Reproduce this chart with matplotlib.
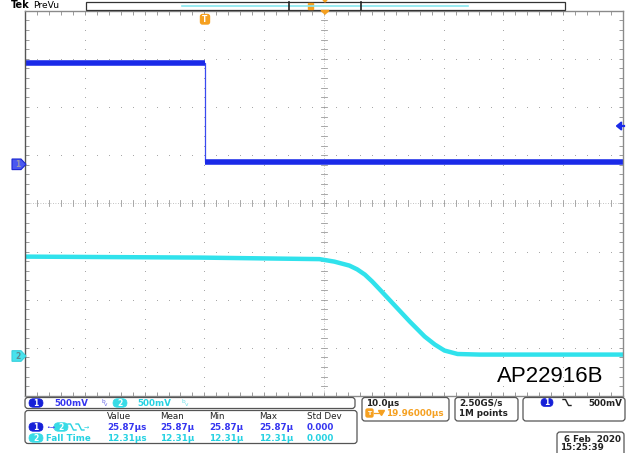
import matplotlib
matplotlib.use('Agg')
import matplotlib.pyplot as plt
import numpy as np
from matplotlib.patches import FancyBboxPatch, Rectangle, Polygon

W, H = 633, 453

# scope settings
t_center = 19.96      # us from trigger to screen centre
us_per_div = 10.0
v_per_div = 0.5

# channel 1 (blue), time in us from trigger, volts
ch1_t = [-30.04, 0.0, 0.0, 69.96]
ch1_v = [1.048, 1.048, 0.02, 0.02]
ch1_offset = 0.81     # divs

# channel 2 (cyan)
ch2_t = [-30.04, -0.8, 19.2, 21.7, 24.2, 25.5, 26.8, 28.0, 29.3, 31.8, 34.3,
         36.8, 38.5, 40.1, 42.3, 46.0, 69.96]
ch2_v = [1.027, 1.017, 1.001, 0.975, 0.934, 0.895, 0.840, 0.770, 0.685, 0.519,
         0.353, 0.197, 0.114, 0.052, 0.016, 0.010, 0.010]
ch2_offset = -3.16

# measurement table
meas_headers = ['Value', 'Mean', 'Min', 'Max', 'Std Dev']
delay_vals = ['25.87µs', '25.87µ', '25.87µ', '25.87µ', '0.000']
fall_vals = ['12.31µs', '12.31µ', '12.31µ', '12.31µ', '0.000']
col_x = [107, 160, 209, 259, 307]

ch1_col = '#1a2ae8'
ch2_col = '#30e2ec'
txt_blue = '#3535f0'
txt_cyan = '#26d2e2'
orange = '#f5a020'
fs = 6.3

fig = plt.figure(figsize=(W / 100, H / 100), dpi=100)

# ---- graticule ----
ax = fig.add_axes([25 / W, 1 - 396 / H, 598 / W, 385.3 / H])
ax.set_xlim(t_center - 5 * us_per_div, t_center + 5 * us_per_div)
ax.set_ylim(-4, 4)
for s in ax.spines.values():
    s.set_color('#8a8a8a')
    s.set_linewidth(1.0)
ax.spines['left'].set_color('#555555')

minor_x = t_center + np.arange(-25, 26) * us_per_div / 5
minor_y = np.arange(-20, 21) / 5
ax.set_xticks(minor_x)
ax.set_yticks(minor_y)
ax.tick_params(direction='in', length=3, width=0.6, color='#8a8a8a',
               top=True, right=True, labelbottom=False, labelleft=False)

for k in range(-4, 5):
    if k == 0:
        continue
    xk = t_center + k * us_per_div
    ax.plot(np.full(len(minor_y), xk), minor_y, ls='none', marker='s',
            ms=0.7, color='#a8a8a8', mew=0)
for k in range(-3, 4):
    if k == 0:
        continue
    ax.plot(minor_x, np.full(len(minor_x), k), ls='none', marker='s',
            ms=0.7, color='#a8a8a8', mew=0)

# centre crosshair
ax.axhline(0, color='#b0b0b0', lw=0.6, ls=(0, (1, 2)))
ax.axvline(t_center, color='#b0b0b0', lw=0.6, ls=(0, (1, 2)))
for xm in minor_x:
    ax.plot([xm, xm], [-0.06, 0.06], color='#9a9a9a', lw=0.6)
for ym in minor_y:
    ax.plot([t_center - 0.5, t_center + 0.5], [ym, ym], color='#9a9a9a', lw=0.6)

# ---- traces ----
ch1_y = np.array(ch1_v) / v_per_div + ch1_offset
ch2_y = np.array(ch2_v) / v_per_div + ch2_offset
ax.plot(ch1_t, ch1_y, color='#3a4af0', lw=0.9)
ax.plot(ch1_t[:2], ch1_y[:2], color=ch1_col, lw=4.0, solid_capstyle='butt')
ax.plot(ch1_t[2:], ch1_y[2:], color=ch1_col, lw=4.0, solid_capstyle='butt')
ax.plot(ch2_t, ch2_y, color=ch2_col, lw=3.2, solid_joinstyle='round')

# ---- overlay in pixel coordinates ----
ov = fig.add_axes([0, 0, 1, 1])
ov.set_xlim(0, W)
ov.set_ylim(H, 0)
ov.axis('off')
ov.patch.set_alpha(0)


def rbox(x0, y0, x1, y1, r=3):
    ov.add_patch(FancyBboxPatch((x0, y0), x1 - x0, y1 - y0,
                                boxstyle='round,pad=0,rounding_size=%s' % r,
                                fc='white', ec='#555555', lw=0.9))


def badge(xc, yc, s, fc, tc='white', w=14, h=8.5):
    ov.add_patch(FancyBboxPatch((xc - w / 2, yc - h / 2), w, h,
                                boxstyle='round,pad=0,rounding_size=%s' % (h / 2),
                                fc=fc, ec=fc, lw=0.5))
    ov.text(xc, yc + 0.3, s, color=tc, ha='center', va='center',
            fontsize=5.5, fontweight='bold')


def fall_icon(x0, yc, color):
    ov.plot([x0, x0 + 2.5, x0 + 5.5, x0 + 8], [yc - 3, yc - 3, yc + 3, yc + 3],
            color=color, lw=1.0)


# top bar
ov.text(11, 5.5, 'Tek', fontsize=7, fontweight='bold', va='center')
ov.text(33, 5.5, 'PreVu', fontsize=6.6, va='center')
ov.add_patch(Rectangle((86, 1.5), 479, 8.5, fill=False, ec='#333333', lw=0.9))
ov.plot([182, 468], [5.5, 5.5], color='#86e8f0', lw=1.2)
ov.plot([289, 289], [1.5, 10], color='#222222', lw=1.2)
ov.plot([361, 361], [1.5, 10], color='#222222', lw=1.2)
ov.add_patch(Rectangle((308, 2.8), 5, 6, color=orange))
ov.add_patch(Polygon([(321, 10.5), (329, 10.5), (325, 14)], color=orange))
ov.add_patch(Polygon([(323, 0), (327, 0), (325, 2)], color=orange))

# trigger position marker
ov.add_patch(FancyBboxPatch((200.5, 14.5), 9, 9.5,
                            boxstyle='round,pad=0,rounding_size=2', color=orange))
ov.text(205, 19.5, 'T', color='white', fontsize=5.5, fontweight='bold',
        ha='center', va='center')

# channel ground markers
ov.add_patch(Polygon([(12, 159), (21, 159), (26, 164.3), (21, 169.6), (12, 169.6)],
                     fc='#4a58f0', ec='#1a26d0', lw=0.8))
ov.text(17.5, 164.6, '1', color='#9a9ab0', fontsize=5.5, fontweight='bold',
        ha='center', va='center')
ov.add_patch(Polygon([(12, 350.7), (21, 350.7), (26, 356), (21, 361.3), (12, 361.3)],
                     fc='#48e2ec', ec='#38d0dc', lw=0.8))
ov.text(17.5, 356.3, '2', color='#5a8a90', fontsize=5.5, fontweight='bold',
        ha='center', va='center')

# trigger level arrow
ov.add_patch(Polygon([(616.5, 126), (621.5, 122), (621.5, 130)], color=ch1_col))
ov.plot([620, 624], [126, 126], color=ch1_col, lw=1.6)

# device label
ov.text(497, 377, 'AP22916B', fontsize=16, family='Liberation Sans',
        ha='left', va='center', color='black')

# channel settings row
rbox(25, 397.5, 355, 408.5)
badge(36, 403, '1', '#1620d8')
ov.text(54, 403.3, '500mV', color=txt_blue, fontsize=fs, fontweight='bold', va='center')
ov.text(101, 401.5, 'b', color='#6a6ae8', fontsize=4.2, va='center')
ov.text(103.5, 405, 'v', color='#6a6ae8', fontsize=4.2, va='center')
badge(120, 403, '2', '#38dbe6')
ov.text(137, 403.3, '500mV', color=txt_cyan, fontsize=fs, fontweight='bold', va='center')
ov.text(182, 401.5, 'b', color='#6fe0ea', fontsize=4.2, va='center')
ov.text(184.5, 405, 'v', color='#6fe0ea', fontsize=4.2, va='center')

# measurement box
rbox(25, 410.5, 357, 443.5)
for cx, hd in zip(col_x, meas_headers):
    ov.text(cx, 416.5, hd, color='#222222', fontsize=fs, va='center')
badge(36, 427, '1', '#1620d8')
ov.text(46, 427, '•→', color=txt_blue, fontsize=4.5, va='center')
badge(61, 427, '2', '#38dbe6')
fall_icon(68, 427, txt_cyan)
fall_icon(76, 427, txt_cyan)
ov.text(84, 427, '→', color=txt_cyan, fontsize=4.5, va='center')
for cx, v in zip(col_x, delay_vals):
    ov.text(cx, 427.5, v, color=txt_blue, fontsize=fs, fontweight='bold', va='center')
badge(36, 438, '2', '#38dbe6')
ov.text(46, 438.3, 'Fall Time', color=txt_cyan, fontsize=fs, fontweight='bold',
        va='center')
for cx, v in zip(col_x, fall_vals):
    ov.text(cx, 438.5, v, color=txt_cyan, fontsize=fs, fontweight='bold', va='center')

# timebase box
rbox(362, 397.5, 449, 421)
ov.text(366, 403.5, '10.0µs', color='#222222', fontsize=fs, fontweight='bold',
        va='center')
ov.add_patch(FancyBboxPatch((366, 409), 7, 8, boxstyle='round,pad=0,rounding_size=1.5',
                            color=orange))
ov.text(369.5, 413.3, 'T', color='white', fontsize=4.5, fontweight='bold',
        ha='center', va='center')
ov.plot([374, 378.5], [413, 413], color=orange, lw=0.9)
ov.add_patch(Polygon([(378.5, 410.5), (384.5, 410.5), (381.5, 415.5)], color=orange))
ov.text(386, 413.5, '19.96000µs', color=orange, fontsize=fs, fontweight='bold',
        va='center')

# sample rate box
rbox(455, 397.5, 518, 421)
ov.text(459, 403.5, '2.50GS/s', color='#222222', fontsize=fs, fontweight='bold',
        va='center')
ov.text(459, 413.5, '1M points', color='#222222', fontsize=fs, fontweight='bold',
        va='center')

# trigger box
rbox(523, 397.5, 625, 421)
badge(547, 402.5, '1', '#1620d8', w=12, h=8)
fall_icon(563, 402.5, '#222222')
ov.text(622, 403, '500mV', color='#222222', fontsize=fs, fontweight='bold',
        ha='right', va='center')

# date box
rbox(557, 432, 624, 456)
ov.text(621, 439, '6 Feb  2020', color='#222222', fontsize=fs, fontweight='bold',
        ha='right', va='center')
ov.text(560, 448, '15:25:39', color='#222222', fontsize=fs, fontweight='bold',
        va='center')

fig.savefig('out.png', dpi=100)
